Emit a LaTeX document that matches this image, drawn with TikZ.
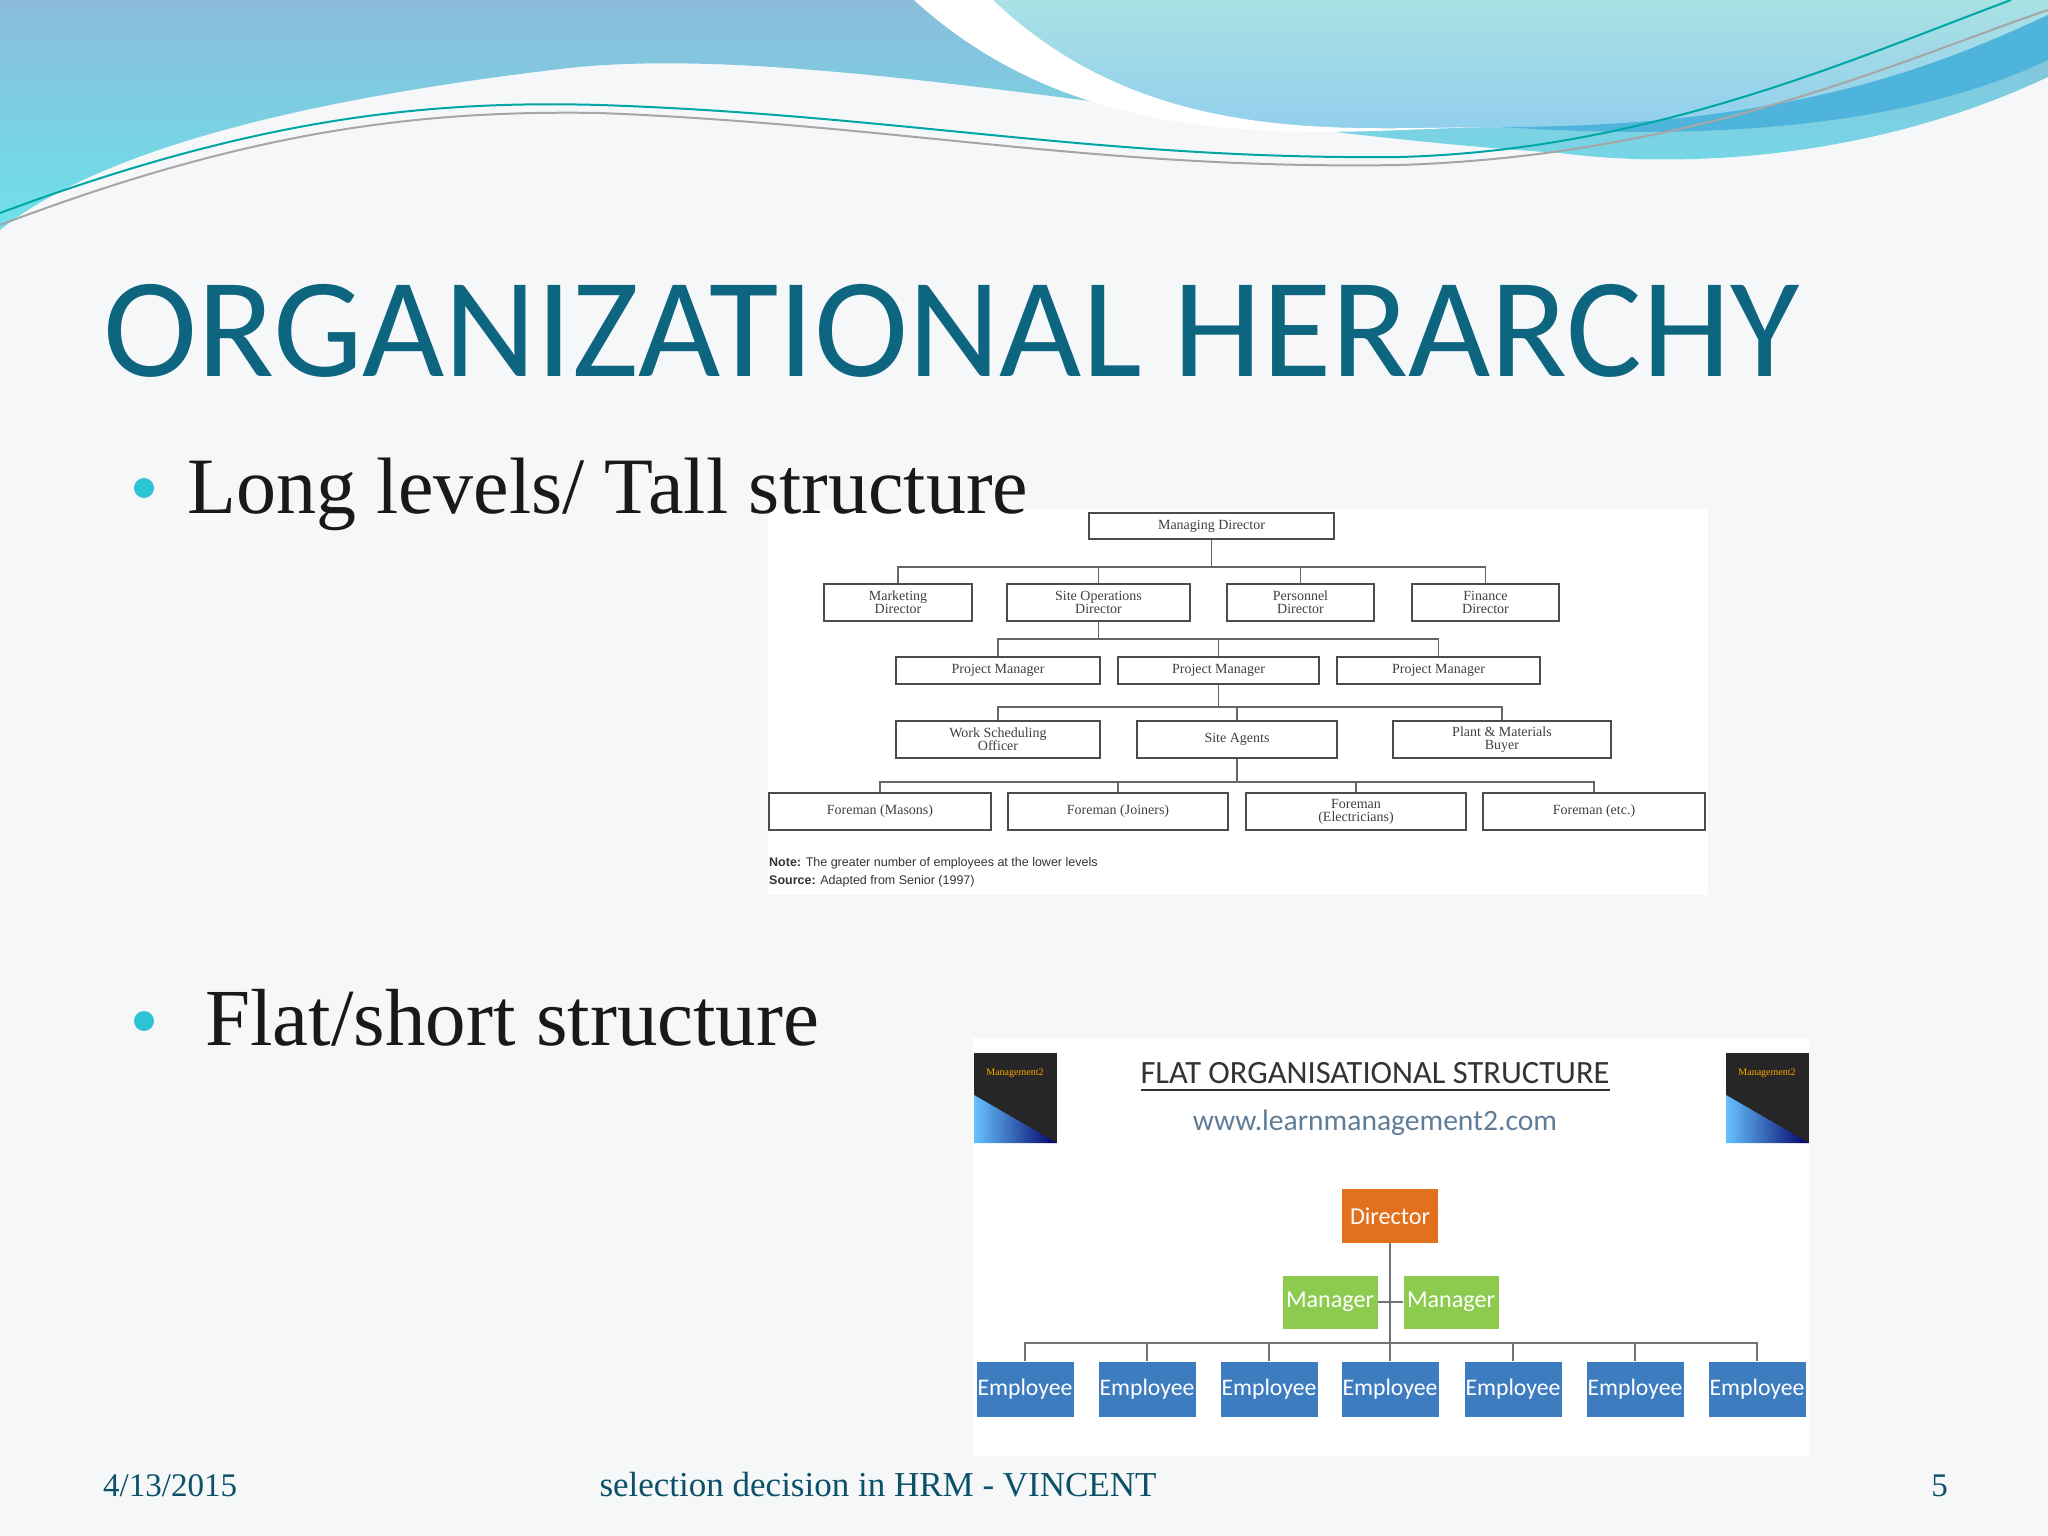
\documentclass[tikz,border=0pt]{standalone}
\usepackage{fontspec}
\setmainfont{Liberation Serif}
\newfontfamily\carl{Carlito}
\newfontfamily\lsans{Liberation Sans}
\usetikzlibrary{calc}
\definecolor{bgc}{HTML}{F6F7F9}
\definecolor{titlec}{HTML}{0E6580}
\definecolor{bulc}{HTML}{2BC4D6}
\definecolor{orgc}{HTML}{E2701C}
\definecolor{mgrc}{HTML}{8DCB4E}
\definecolor{empc}{HTML}{3E7CC0}
\definecolor{urlc}{HTML}{5F7D99}
\definecolor{wtop}{HTML}{8ABCDA}
\definecolor{wbot}{HTML}{6EE2EA}
\definecolor{ltop}{HTML}{A9E1E4}
\definecolor{lbot}{HTML}{8ECCEE}
\definecolor{band}{HTML}{4FB4DB}
\tikzset{
  tbox/.style={draw=black!70,line width=1.2pt,fill=white,inner sep=0pt,align=center,font=\fontsize{14}{13}\selectfont,text=black!75},
  tline/.style={draw=black!60,line width=1.2pt},
  fbox/.style={inner sep=0pt,align=center,text=white},
  fline/.style={draw=black!55,line width=2.5pt}
}
\newcommand{\tb}[5]{\node[tbox,minimum width=#3-#1,minimum height=#4-#2] (#5) at ({(#1+#3)/2},{(#2+#4)/2})}
\begin{document}
\begin{tikzpicture}[x=1pt,y=-1pt]
\fill[bgc] (0,0) rectangle (2048,1536);
\useasboundingbox (0,0) rectangle (2048,1536);
% top waves
\shade[top color=wtop,bottom color=wbot] (0,0) -- (2048,0) -- (2048,77) .. controls (1850,170) and (1650,165) .. (1560,153) .. controls (1200,130) and (800,40) .. (560,69) .. controls (300,100) and (100,150) .. (0,230) -- cycle;
\shade[top color=ltop,bottom color=lbot] (993,0) .. controls (1150,150) and (1350,127) .. (1502,127) .. controls (1800,127) and (1950,60) .. (2048,15) -- (2048,0) -- cycle;
\fill[white] (914,0) .. controls (1100,170) and (1350,127) .. (1502,127) .. controls (1350,127) and (1150,150) .. (993,0) -- cycle;
\fill[band] (1502,127) .. controls (1800,127) and (1950,60) .. (2048,15) -- (2048,60) .. controls (1900,130) and (1700,140) .. (1502,127) -- cycle;
\draw[teal!70!cyan,line width=2pt] (0,213) .. controls (250,120) and (420,100) .. (600,105) .. controls (900,115) and (1100,160) .. (1400,157) .. controls (1650,150) and (1850,60) .. (2011,0);
\draw[gray!70,line width=2pt] (0,225) .. controls (250,130) and (420,110) .. (600,113) .. controls (900,125) and (1100,170) .. (1400,165) .. controls (1700,155) and (1900,60) .. (2048,10);
% tall chart
\fill[white] (768,509) rectangle (1708,895);
\tb{1089}{513}{1334}{539}{md} {Managing Director};
\tb{824}{584}{972}{621}{l2a} {Marketing\\Director};
\tb{1007}{584}{1190}{621}{l2b} {Site Operations\\Director};
\tb{1227}{584}{1374}{621}{l2c} {Personnel\\Director};
\tb{1412}{584}{1559}{621}{l2d} {Finance\\Director};
\tb{896}{657}{1100}{684}{l3a} {Project Manager};
\tb{1118}{657}{1319}{684}{l3b} {Project Manager};
\tb{1337}{657}{1540}{684}{l3c} {Project Manager};
\tb{896}{721}{1100}{758}{l4a} {Work Scheduling\\Officer};
\tb{1137}{721}{1337}{758}{l4b} {Site Agents};
\tb{1393}{721}{1611}{758}{l4c} {Plant \& Materials\\Buyer};
\tb{769}{793}{991}{830}{l5a} {Foreman (Masons)};
\tb{1008}{793}{1228}{830}{l5b} {Foreman (Joiners)};
\tb{1246}{793}{1466}{830}{l5c} {Foreman\\(Electricians)};
\tb{1483}{793}{1705}{830}{l5d} {Foreman (etc.)};
\draw[tline] (md.south) -- (md.south |- 0,567) coordinate (c2);
\draw[tline] (l2a.north) |- (l2d.north |- c2) -- (l2d.north);
\draw[tline] (l2b.north) -- (l2b.north |- c2);
\draw[tline] (l2c.north) -- (l2c.north |- c2);
\draw[tline] (l2b.south) -- (l2b.south |- 0,639) coordinate (c3);
\draw[tline] (l3a.north) |- (l3c.north |- c3) -- (l3c.north);
\draw[tline] (l3b.north) -- (l3b.north |- c3);
\draw[tline] (l3b.south) -- (l3b.south |- 0,707) coordinate (c4);
\draw[tline] (l4a.north) |- (l4c.north |- c4) -- (l4c.north);
\draw[tline] (l4b.north) -- (l4b.north |- c4);
\draw[tline] (l4b.south) -- (l4b.south |- 0,782) coordinate (c5);
\draw[tline] (l5a.north) |- (l5d.north |- c5) -- (l5d.north);
\draw[tline] (l5b.north) -- (l5b.north |- c5);
\draw[tline] (l5c.north) -- (l5c.north |- c5);
\node[anchor=base west,inner sep=0pt,font=\lsans\fontsize{12.5}{12}\selectfont,text=black!80] (note) at (769,866) {\textbf{Note:} The greater number of employees at the lower levels};
\node[anchor=base west,inner sep=0pt,font=\lsans\fontsize{12.5}{12}\selectfont,text=black!80] (src) at (769,884) {\textbf{Source:} Adapted from Senior (1997)};
% title and bullets
\node[anchor=base west,inner sep=0pt,text=titlec,font=\carl\fontsize{142}{142}\selectfont] (title) at (103,376) {ORGANIZATIONAL HERARCHY};
\fill[bulc] (144,488) circle (10) coordinate (b1);
\node[anchor=base west,inner sep=0pt,font=\fontsize{80}{80}\selectfont,text=black!90] (t1) at (187,513) {Long levels/ Tall structure};
\fill[bulc] (144,1021) circle (10) coordinate (b2);
\node[anchor=base west,inner sep=0pt,font=\fontsize{81}{81}\selectfont,text=black!90] (t2) at (205,1045) {Flat/short structure};
% flat chart
\fill[white] (973,1038) rectangle (1809,1456);
\foreach \xa/\nm in {974/lg1,1726/lg2}{
  \fill[black!85] (\xa,1053) rectangle ++(83,90);
  \shade[left color=blue!40!cyan!60!white,right color=blue!40!black] (\xa,1095) -- (\xa+83,1143) -- (\xa,1143) -- cycle;
  \node[text=orange!70!yellow,font=\fontsize{10}{10}\selectfont,inner sep=0pt] (\nm) at (\xa+41,1073) {Management2};
}
\node[inner sep=0pt,text=black!80,font=\carl] (ft) at (1375,1073) {\resizebox{469pt}{!}{FLAT ORGANISATIONAL STRUCTURE}};
\draw[black!80,line width=2.5pt] (1141,1090) -- (1610,1090);
\node[inner sep=0pt,text=urlc,font=\carl] (url) at (1375,1123) {\resizebox{364pt}{!}{www.learnmanagement2.com}};
\node[fbox,fill=orgc,minimum width=96,minimum height=54] (dir) at (1390,1216) {\resizebox{80pt}{!}{\carl Director}};
\node[fbox,fill=mgrc,minimum width=95,minimum height=53] (m1) at (1330,1302) {\resizebox{88pt}{!}{\carl Manager}};
\node[fbox,fill=mgrc,minimum width=95,minimum height=53] (m2) at (1451,1302) {\resizebox{88pt}{!}{\carl Manager}};
\draw[fline] (dir.south) -- (1390,1343) coordinate (fb);
\draw[fline] (m1.east) -- (m2.west);
\foreach \i/\xc in {1/1025,2/1147,3/1269,4/1390,5/1513,6/1635,7/1757}{
  \node[fbox,fill=empc,minimum width=97,minimum height=55] (e\i) at (\xc,1389) {\resizebox{95pt}{!}{\carl Employee}};
}
\draw[fline] (e1.north) |- (e7.north |- fb) -- (e7.north);
\foreach \i in {2,3,4,5,6}{\draw[fline] (e\i.north) -- (e\i.north |- fb);}
% footer
\node[anchor=base west,inner sep=0pt,font=\fontsize{33}{33}\selectfont,text=titlec!80!black] (date) at (103,1496) {4/13/2015};
\node[anchor=base,inner sep=0pt,font=\fontsize{35}{35}\selectfont,text=titlec!80!black] (foot) at (878,1496) {selection decision in HRM - VINCENT};
\node[anchor=base east,inner sep=0pt,font=\fontsize{33}{33}\selectfont,text=titlec!80!black] (pg) at (1948,1496) {5};
\end{tikzpicture}
\end{document}
